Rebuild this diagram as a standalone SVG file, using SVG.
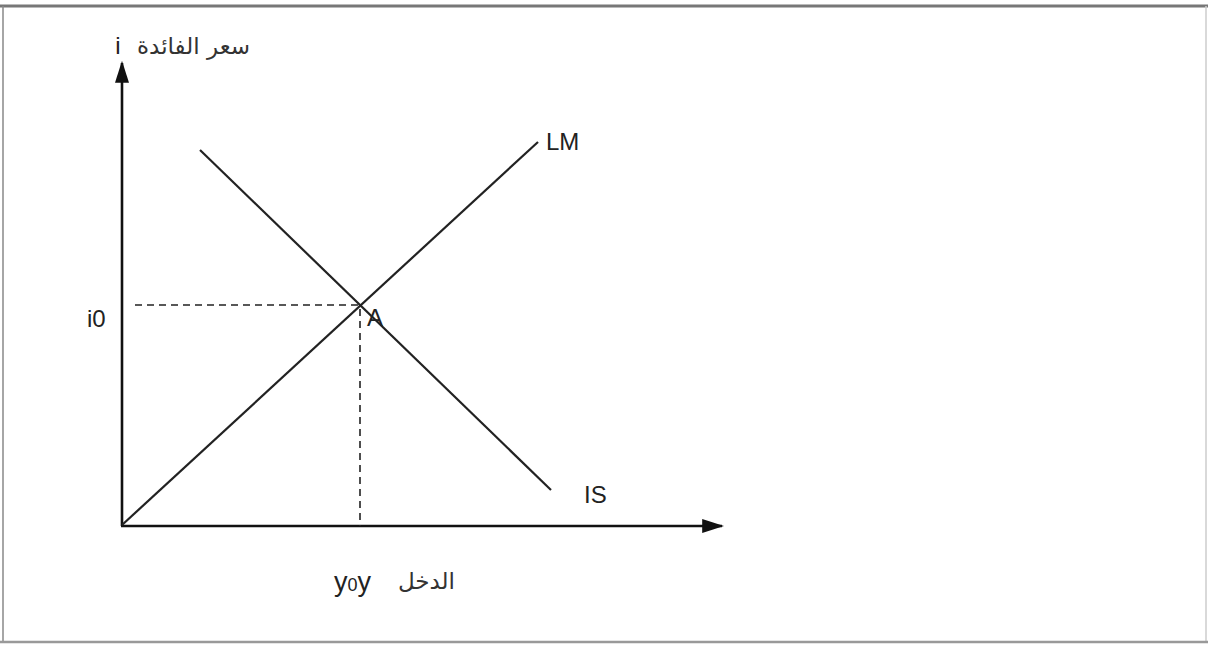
<svg xmlns="http://www.w3.org/2000/svg" width="1208" height="646" viewBox="0 0 1208 646">
<style>
.ax{stroke:#111;stroke-width:2.6;fill:none}
.ln{stroke:#222;stroke-width:2.2;fill:none}
.ds{stroke:#222;stroke-width:1.6;fill:none;stroke-dasharray:7,5}
.t{font-family:"Liberation Sans","Noto Sans",sans-serif;fill:#222;font-size:24px}
.ar{font-family:"DejaVu Sans","Noto Sans",sans-serif;fill:#333;font-size:23px}
</style>
<defs>
<marker id="ahb" viewBox="0 0 10 10" refX="9" refY="5" markerWidth="22" markerHeight="14" markerUnits="userSpaceOnUse" orient="auto" preserveAspectRatio="none">
<path d="M0,0 L10,5 L0,10 z" fill="#111"/>
</marker>
</defs>
<rect x="0" y="0" width="1208" height="646" fill="#fff"/>
<g id="frame">
<line x1="0" y1="6" x2="1208" y2="6" stroke="#777" stroke-width="3"/>
<line x1="3" y1="6" x2="3" y2="643" stroke="#888" stroke-width="1.5"/>
<line x1="1206" y1="6" x2="1206" y2="643" stroke="#ccc" stroke-width="1.5"/>
<line x1="0" y1="642" x2="1208" y2="642" stroke="#999" stroke-width="2.5"/>
</g>
<g id="connectors">
<line class="ax" x1="122" y1="526" x2="122" y2="63" marker-end="url(#ahb)"/>
<line class="ax" x1="121" y1="526" x2="722" y2="526" marker-end="url(#ahb)"/>
<line class="ln" x1="122" y1="525" x2="538" y2="142"/>
<line class="ln" x1="200" y1="150" x2="551" y2="490"/>
<line class="ds" x1="135" y1="305" x2="359" y2="305"/>
<line class="ds" x1="360" y1="309" x2="360" y2="526"/>
</g>
<g id="label-yaxis">
<text class="t" x="118" y="54" text-anchor="middle">i</text>
<text class="ar" x="250" y="54" direction="rtl" text-anchor="start">سعر الفائدة</text>
</g>
<g id="label-i0"><text class="t" x="87" y="327">i0</text></g>
<g id="label-A"><text class="t" x="367" y="326">A</text></g>
<g id="label-LM"><text class="t" x="546" y="150">LM</text></g>
<g id="label-IS"><text class="t" x="584" y="503">IS</text></g>
<g id="label-xaxis">
<text class="t" x="334" y="591" style="font-size:27px">y<tspan style="font-size:18px">0</tspan>y</text>
<text class="ar" x="455" y="589" direction="rtl" text-anchor="start">الدخل</text>
</g>
</svg>
